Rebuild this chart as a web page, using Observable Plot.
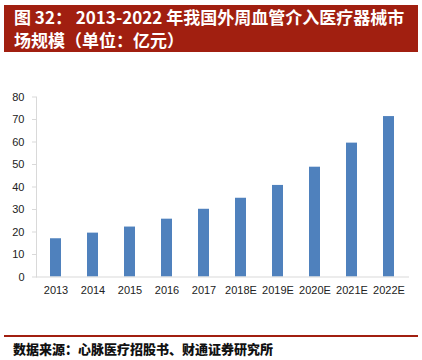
<!DOCTYPE html>
<html><head><meta charset="utf-8">
<script src="https://cdn.jsdelivr.net/npm/d3@7"></script>
<script src="https://cdn.jsdelivr.net/npm/@observablehq/plot@0.6"></script>
<style>
html,body{margin:0;padding:0;background:#fff;width:422px;height:360px;overflow:hidden;}
#wrap{position:relative;width:422px;height:360px;}
#title{position:absolute;left:4px;top:5px;width:414px;height:47px;background:#A11F10;color:#fff;
 font-family:"Noto Sans CJK SC",sans-serif;font-weight:bold;font-size:17px;line-height:24px;box-sizing:border-box;padding:0 0 0 10px;white-space:nowrap;}
#title div{height:23px;line-height:23px;}
#chart{position:absolute;left:0;top:60px;}
#rule{position:absolute;left:4px;top:335px;width:414px;height:2px;background:#A11F10;}
#caption{position:absolute;left:13px;top:340px;font-family:"Noto Sans CJK SC",sans-serif;font-weight:900;font-size:13px;line-height:18px;color:#111;white-space:nowrap;}
</style></head>
<body><div id="wrap">
<div id="title"><div>图 32： 2013-2022 年我国外周血管介入医疗器械市</div><div>场规模（单位：亿元）</div></div>
<div id="chart"></div>
<div id="rule"></div>
<div id="caption">数据来源：心脉医疗招股书、财通证券研究所</div>
</div>
<script>
const years = ["2013","2014","2015","2016","2017","2018E","2019E","2020E","2021E","2022E"];
const values = [17.0, 19.5, 22.2, 25.7, 30.1, 35.0, 40.7, 48.8, 59.5, 71.3];
const yTicks = [0,10,20,30,40,50,60,70,80];
const data = years.map((y,i)=>({year:y, value:values[i]}));
const chart = Plot.plot({
  width: 422, height: 240,
  marginLeft: 36, marginRight: 13, marginTop: 36.5, marginBottom: 23.5,
  style: {fontFamily: "Liberation Sans, Arial, sans-serif", fontSize: "11px", color: "#222", background: "#fff"},
  x: {domain: years, paddingInner: 0.7, paddingOuter: 0.35, label: null},
  y: {domain: [0, 80], label: null},
  marks: [
    Plot.barY(data, {x: "year", y: "value", fill: "#4F81BD"}),
    Plot.ruleY([0], {stroke: "#d9d9d9", strokeWidth: 1}),
    Plot.frame({anchor: "left", stroke: "#d9d9d9"}),
    Plot.axisY(yTicks, {tickSize: 4, stroke: "#d9d9d9", tickPadding: 8, fill: "#222", fontSize: 11}),
    Plot.axisX({tickSize: 0, tickPadding: 9, fill: "#222", fontSize: 11})
  ]
});
document.getElementById("chart").appendChild(chart);
</script>
</body></html>
